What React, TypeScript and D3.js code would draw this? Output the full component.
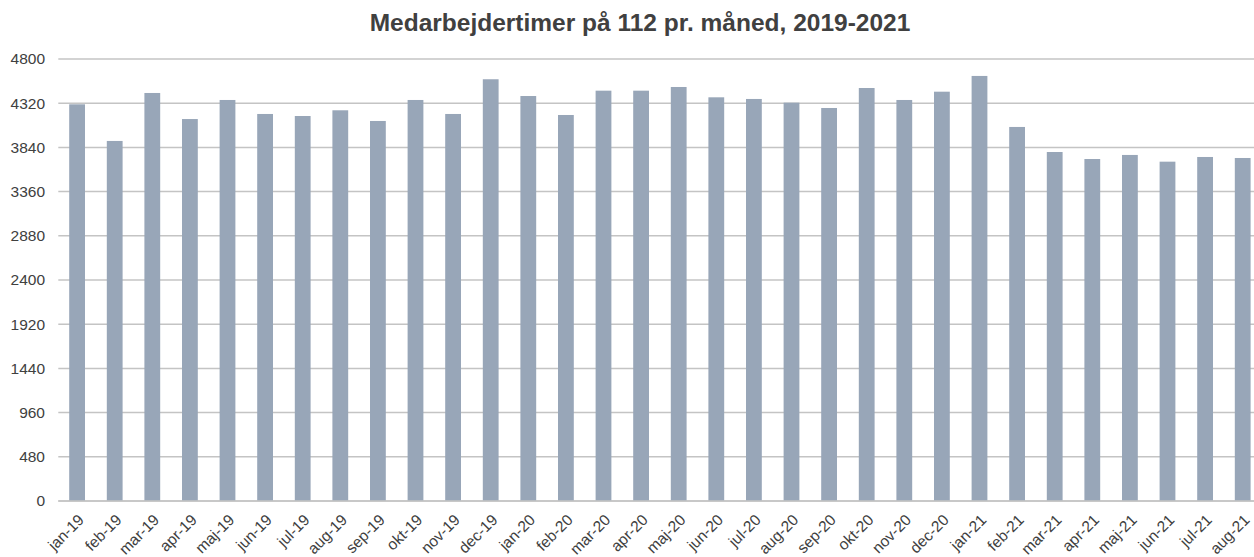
import React from "react";
import * as d3 from "d3";

const categories = [
  "jan-19","feb-19","mar-19","apr-19","maj-19","jun-19","jul-19","aug-19","sep-19","okt-19","nov-19","dec-19",
  "jan-20","feb-20","mar-20","apr-20","maj-20","jun-20","jul-20","aug-20","sep-20","okt-20","nov-20","dec-20",
  "jan-21","feb-21","mar-21","apr-21","maj-21","jun-21","jul-21","aug-21",
];
const hours = [
  4308, 3910, 4431, 4148, 4355, 4203, 4181, 4243, 4127, 4355, 4203, 4580,
  4398, 4192, 4456, 4456, 4496, 4384, 4366, 4326, 4268, 4485, 4355, 4445,
  4616, 4062, 3790, 3714, 3758, 3685, 3736, 3725,
];
const yTicks = [0, 480, 960, 1440, 1920, 2400, 2880, 3360, 3840, 4320, 4800];
const title = "Medarbejdertimer på 112 pr. måned, 2019-2021";

const W = 1254;
const H = 557;
const left = 58.3;
const step = 37.6;
const top = 59;
const bottom = 501;

export default function App() {
  const x = d3
    .scaleBand<string>()
    .domain(categories)
    .range([left, left + step * categories.length])
    .paddingInner(0.58)
    .paddingOuter(0.29);
  const y = d3.scaleLinear().domain([0, 4800]).range([bottom, top]);
  const font = "'Liberation Sans', Arial, sans-serif";

  return (
    <svg
      width={W}
      height={H}
      style={{ position: "absolute", left: 0, top: 0, background: "#fff" }}
      fontFamily={font}
    >
      <text x={640} y={30.5} textAnchor="middle" fontSize={24.5} fontWeight="bold" fill="#404040">
        {title}
      </text>
      {yTicks.map((t) => (
        <g key={t}>
          <line x1={left} x2={W} y1={y(t)} y2={y(t)} stroke="#c4c4c4" strokeWidth={1.5} />
          <text x={45} y={y(t)} dy="0.35em" textAnchor="end" fontSize={15.5} fill="#404040">
            {t}
          </text>
        </g>
      ))}
      {categories.map((c, i) => (
        <rect
          key={c}
          x={x(c)!}
          y={y(hours[i])}
          width={x.bandwidth()}
          height={y(0) - y(hours[i])}
          fill="#98a6b8"
        />
      ))}
      <line x1={left} x2={W} y1={y(0)} y2={y(0)} stroke="#c4c4c4" strokeWidth={1.5} />
      {categories.map((c) => {
        const cx = x(c)! + x.bandwidth() / 2 + 4;
        const cy = y(0) + 16;
        return (
          <text
            key={c}
            transform={`translate(${cx},${cy}) rotate(-45)`}
            textAnchor="end"
            dy="0.35em"
            fontSize={15.5}
            fill="#404040"
          >
            {c}
          </text>
        );
      })}
    </svg>
  );
}
